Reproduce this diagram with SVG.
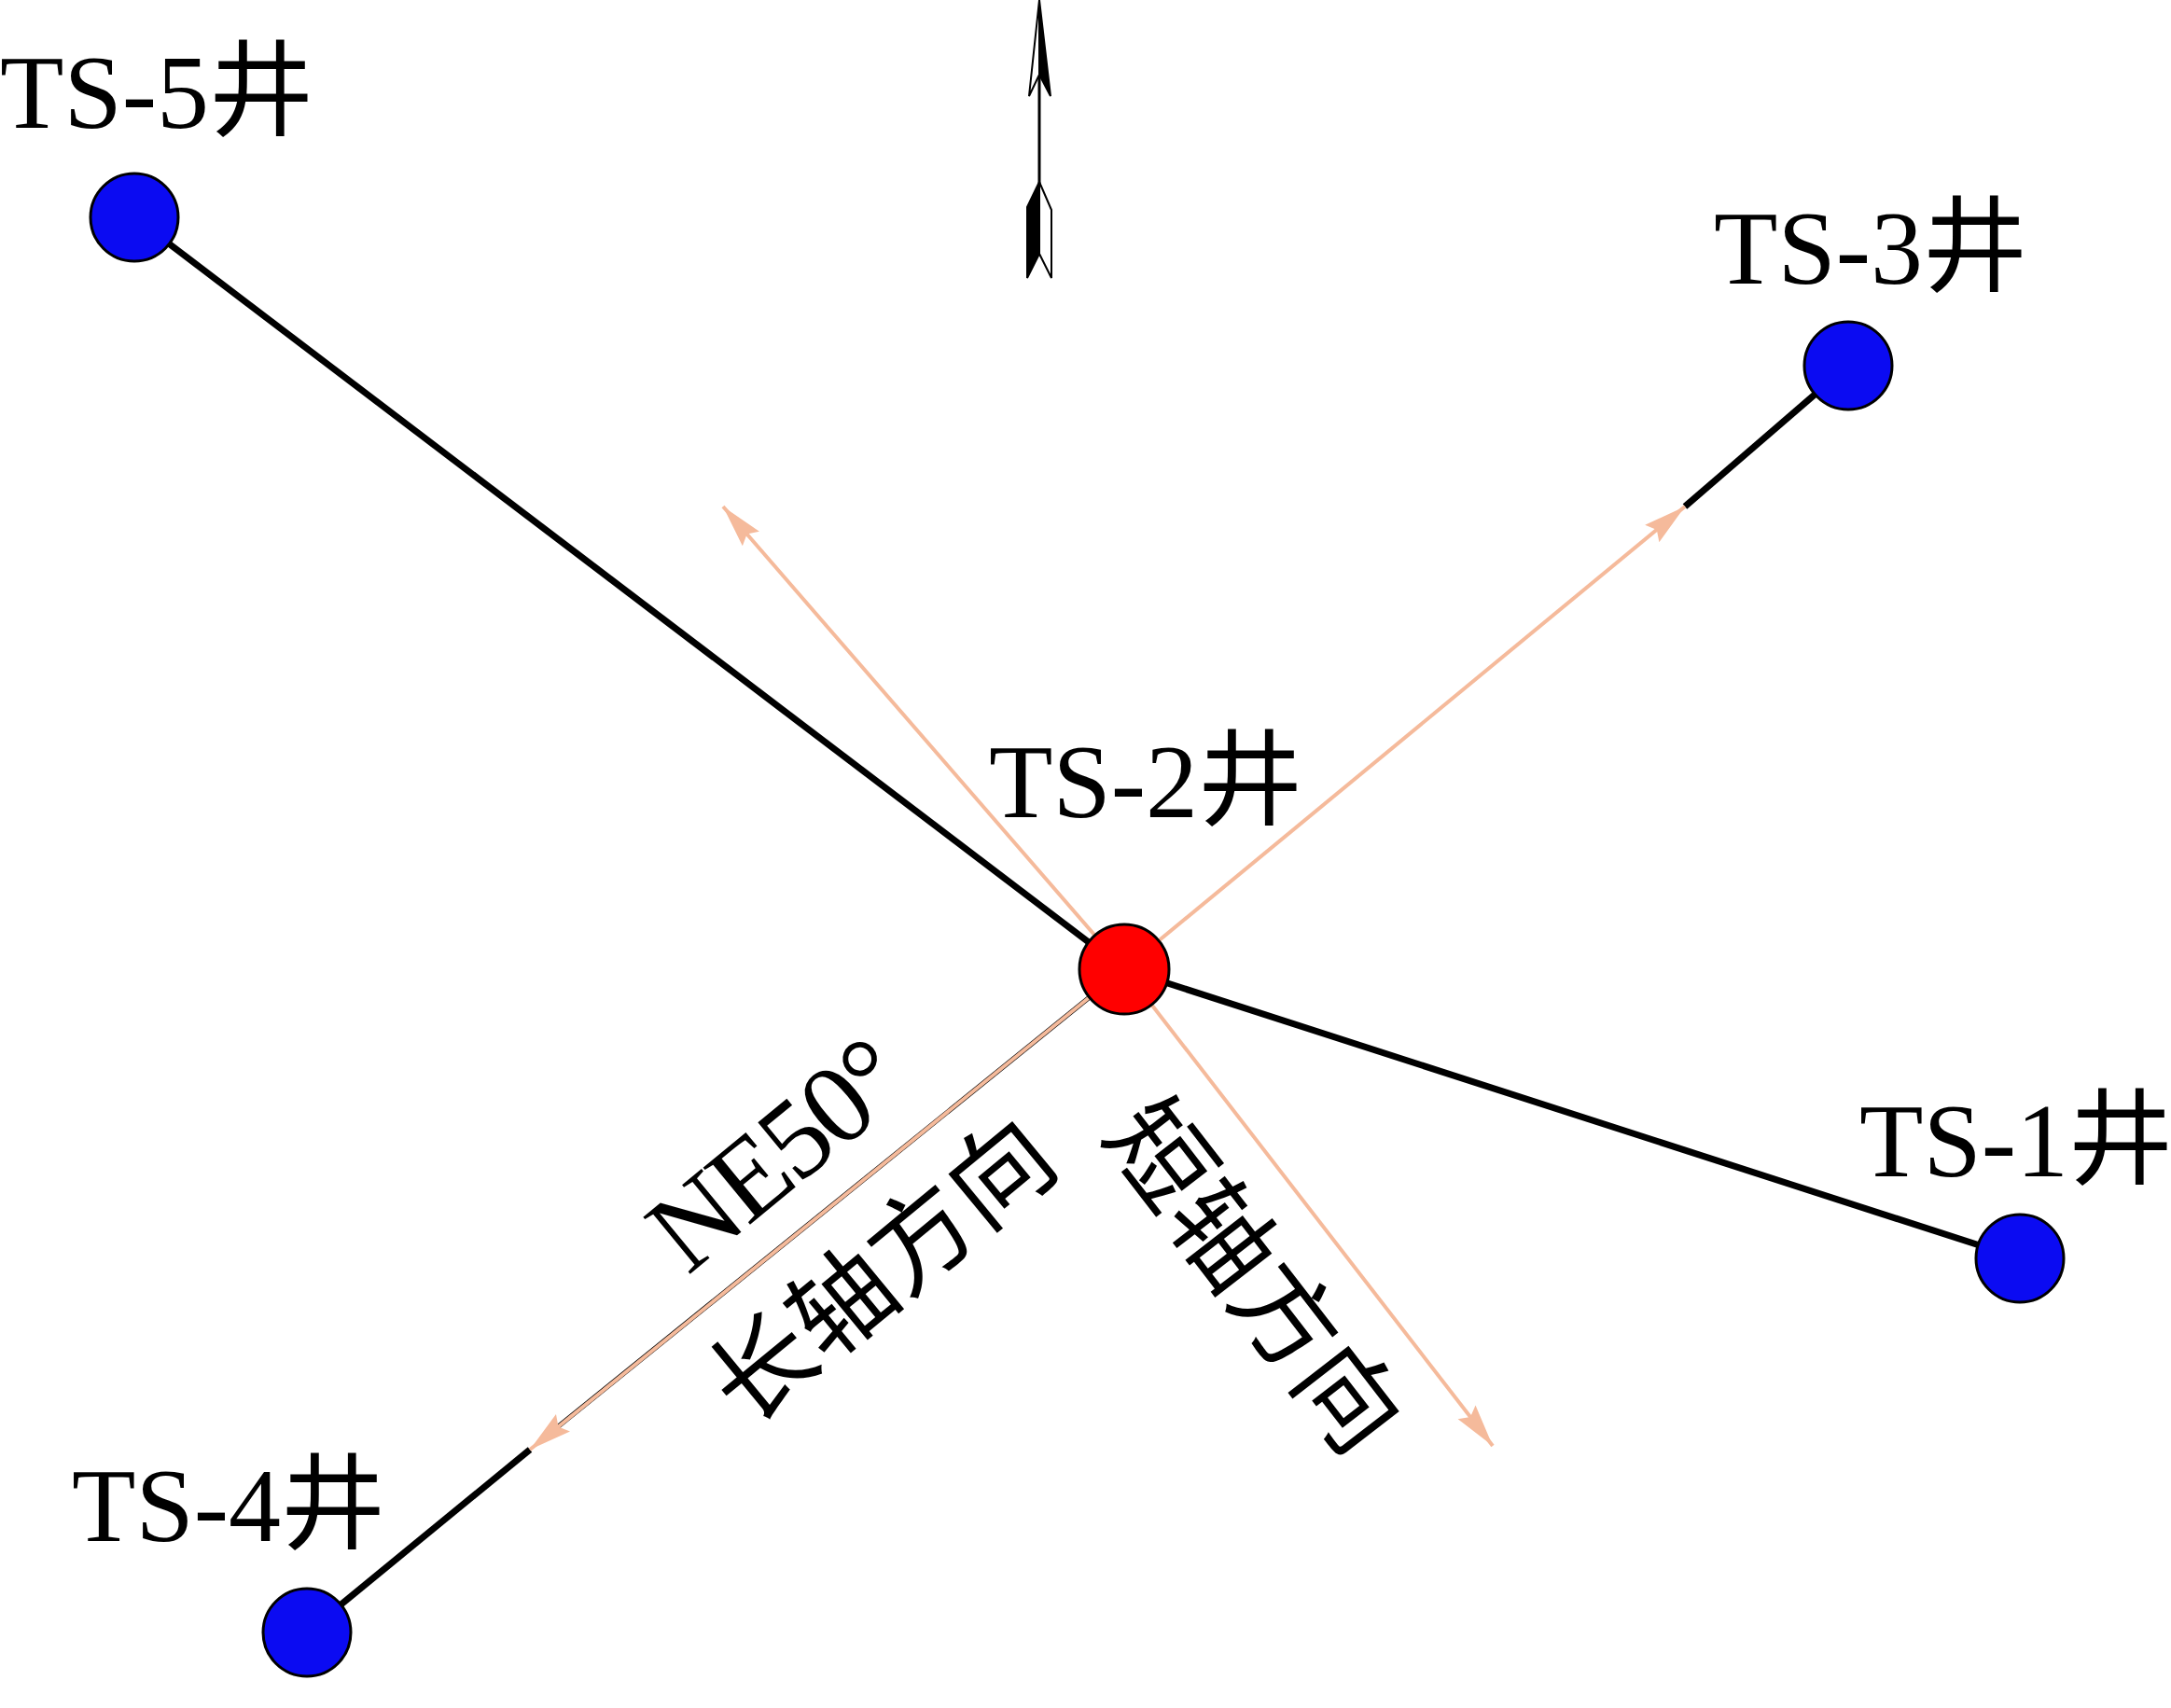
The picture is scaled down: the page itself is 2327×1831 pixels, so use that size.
<svg xmlns="http://www.w3.org/2000/svg" width="2327" height="1831" viewBox="0 0 2327 1831">
<style>
.lbl{font-family:"Liberation Serif","Noto Sans CJK SC",serif;font-size:112px;fill:#000}
.rot{font-family:"Liberation Serif","Noto Sans CJK SC",serif;font-size:110px;fill:#000}
.ne{font-family:"Liberation Serif","Noto Sans CJK SC",serif;font-size:121px;letter-spacing:-4px;fill:#000}
.blk{stroke:#000;stroke-width:7;fill:none;stroke-linecap:butt}
.org{stroke:#F5BA9B;stroke-width:4;fill:none;marker-end:url(#ah)}
.well{fill:#0B0BF2;stroke:#000;stroke-width:3}
.main{fill:#FF0000;stroke:#000;stroke-width:3}
</style>
<defs>
<marker id="ah" markerUnits="userSpaceOnUse" markerWidth="50" markerHeight="30" viewBox="-44 -13 46 26" refX="0" refY="0" orient="auto">
<path d="M0,0 L-42,-11 L-36,0 L-42,11 Z" fill="#F5BA9B"/>
</marker>
</defs>
<rect width="2327" height="1831" fill="#fff"/>
<g id="north-arrow">
<line x1="1114" y1="60" x2="1114" y2="200" stroke="#000" stroke-width="3"/>
<path d="M1114,0 L1103,103 L1114,80 Z" fill="#fff" stroke="#000" stroke-width="2"/>
<path d="M1114,0 L1126,103 L1114,80 Z" fill="#000" stroke="#000" stroke-width="2"/>
<path d="M1114,195 L1101,222 L1101,298 L1114,272 Z" fill="#000" stroke="#000" stroke-width="2"/>
<path d="M1114,195 L1127,225 L1127,298 L1114,272 Z" fill="#fff" stroke="#000" stroke-width="2"/>
</g>
<g id="connectors">
<line class="blk" x1="144" y1="233" x2="1205" y2="1039"/>
<line class="blk" x1="1205" y1="1039" x2="2165" y2="1349"/>
<line class="blk" x1="1806" y1="543" x2="1981" y2="392"/>
<line class="blk" x1="568" y1="1554" x2="329" y2="1750"/>
<line stroke="#000" stroke-width="5" x1="1205" y1="1039" x2="580" y2="1544"/>
<line class="org" x1="1205" y1="1039" x2="775" y2="543"/>
<line class="org" x1="1205" y1="1039" x2="1806" y2="543"/>
<line class="org" x1="1205" y1="1039" x2="568" y2="1554"/>
<line class="org" x1="1205" y1="1039" x2="1600" y2="1550"/>
</g>
<g id="TS-5"><circle class="well" cx="144" cy="233" r="47"/><text class="lbl" x="0" y="137">TS-5井</text></g>
<g id="TS-3"><circle class="well" cx="1981" cy="392" r="47"/><text class="lbl" x="1837" y="304">TS-3井</text></g>
<g id="TS-1"><circle class="well" cx="2165" cy="1349" r="47"/><text class="lbl" x="1993" y="1261">TS-1井</text></g>
<g id="TS-4"><circle class="well" cx="329" cy="1750" r="47"/><text class="lbl" x="77" y="1652">TS-4井</text></g>
<g id="TS-2"><circle class="main" cx="1205" cy="1039" r="48"/><text class="lbl" x="1060" y="876">TS-2井</text></g>
<g id="labels">
<text class="ne" transform="translate(737,1368) rotate(-39.5)">NE50°</text>
<text class="rot" transform="translate(800,1532) rotate(-39.5)">长轴方向</text>
<text class="rot" transform="translate(1179,1218) rotate(52.3)">短轴方向</text>
</g>
</svg>
